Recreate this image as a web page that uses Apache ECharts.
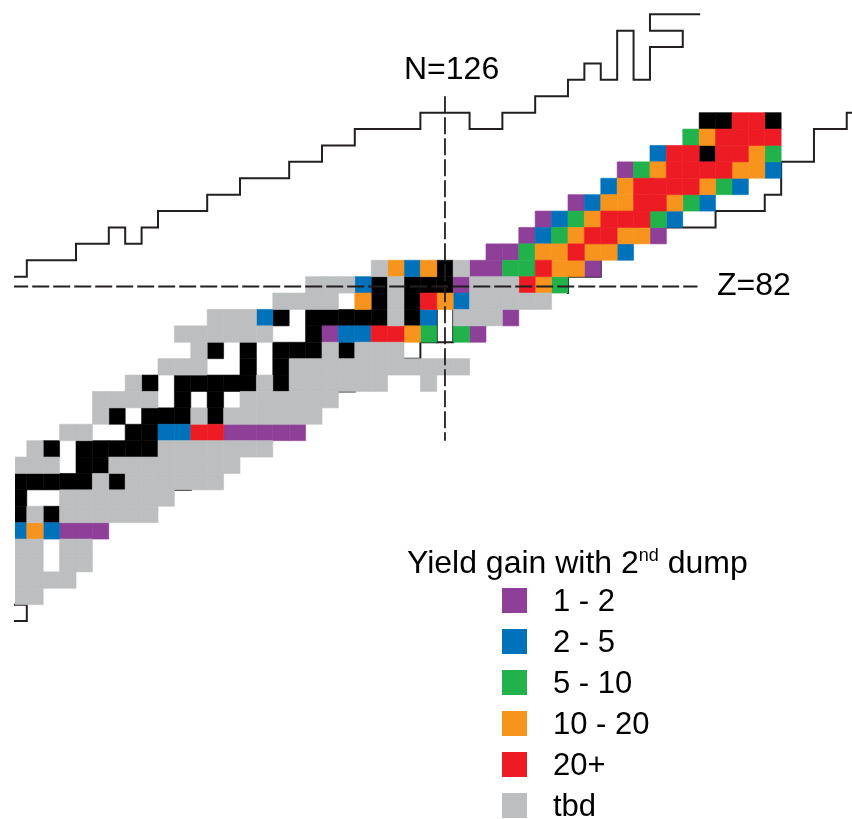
<!DOCTYPE html>
<html>
<head>
<meta charset="utf-8">
<script src="https://cdn.jsdelivr.net/npm/echarts@6/dist/echarts.min.js"></script>
<style>
html,body{margin:0;padding:0;background:#fff;}
#c{width:852px;height:819px;}
</style>
</head>
<body>
<div id="c"></div>
<script>
// ---- legend categories ----
const categories = ['1 - 2', '2 - 5', '5 - 10', '10 - 20', '20+', 'tbd'];
const categoryCodes = ['p', 'b', 'g', 'o', 'r', 't'];
const categoryColors = ['#8E3F97', '#0072BC', '#22B24C', '#F7941D', '#ED1C24', '#BCBEC0'];
const legendTitle = 'Yield gain with 2{s|nd} dump';
const knownCode = 'k';          // black cells (no legend entry)
const knownColor = '#000000';

// ---- cell grid: one row per proton number Z, starting at neutron number rowStartN ----
// codes: p,b,g,o,r = yield-gain classes, t = tbd, k = black, '.' = empty
const rowZ = [92, 91, 90, 89, 88, 87, 86, 85, 84, 83, 82, 81, 80, 79, 78, 77, 76, 75, 74, 73, 72, 71, 70, 69, 68, 67, 66, 65, 64, 63];
const rowStartN = [142, 141, 139, 137, 136, 134, 132, 131, 129, 122, 118, 116, 112, 110, 111, 109, 107, 105, 105, 103, 101, 100, 100, 100, 100, 100, 100, 100, 100, 100];
const rowCells = [
  'kkrrk',
  'gorrrr',
  'brrkrrog',
  'pgorrrroob',
  'borrrrogb',
  'pboorrogb',
  'pbgorrrgb',
  'pbgorroop',
  'ppgooroob',
  'toboktppggroop',
  'tttbktkkkptttrog',
  'tttt.oktkrobttttt',
  'tttbk.kkkkktkb.tttp',
  'tttttt..kpbbrrog.gp',
  'tk.k.kkktkttt',
  'ttt..k.kttttttttttt',
  'tk.kkkkktktttttt..t',
  'tttt.k.k.tttttt',
  'tk.kkktktttttt',
  'tt..kkbbrrppppp',
  'tk.kkkkkttttttt',
  'ttt.kktttttttt',
  'kkkkktktttttt',
  'k..ttttttt',
  'ktktttttt',
  'bobppp',
  'tt.tt',
  'tt.tt',
  'tttt',
  'tt'
];

// ---- outline (limit) lines, [N, Z] corner points on cell edges ----
const upperLimit = [[99,82.5],[100.5,82.5],[100.5,83.5],[103.5,83.5],[103.5,84.5],[105.5,84.5],[105.5,85.5],[106.5,85.5],[106.5,84.5],[107.5,84.5],[107.5,85.5],[108.5,85.5],[108.5,86.5],[111.5,86.5],[111.5,87.5],[113.5,87.5],[113.5,88.5],[116.5,88.5],[116.5,89.5],[118.5,89.5],[118.5,90.5],[120.5,90.5],[120.5,91.5],[124.5,91.5],[124.5,92.5],[127.5,92.5],[127.5,91.5],[129.5,91.5],[129.5,92.5],[131.5,92.5],[131.5,93.5],[133.5,93.5],[133.5,94.5],[134.5,94.5],[134.5,95.5],[135.5,95.5],[135.5,94.5],[136.5,94.5],[136.5,97.5],[137.5,97.5],[137.5,94.5],[138.5,94.5],[138.5,96.5],[140.5,96.5],[140.5,97.5],[138.5,97.5],[138.5,98.5],[141.5,98.5]];
const rightLimit = [[152,92.5],[150.5,92.5],[150.5,91.5],[148.5,91.5],[148.5,89.5],[146.5,89.5],[146.5,87.5],[145.5,87.5],[145.5,86.5],[142.5,86.5],[142.5,85.5],[139.5,85.5]];
const lowerLimitA = [[133.5,81.5],[133.5,82.5],[135.5,82.5],[135.5,83.5]];
const lowerLimitB = [[123.5,77.5],[124.5,77.5],[124.5,78.5],[126.5,78.5],[126.5,80.5]];
const lowerLimitC = [[125.5,78.5],[125.5,80.5]];
const lowerLimitD = [[119.5,75.5],[120.5,75.5]];
const lowerLimitE = [[109.5,69.5],[110.5,69.5]];
const lowerLimitF = [[99,62.5],[100.5,62.5],[100.5,61.5],[99,61.5]];

// ---- magic-number guide lines ----
const magicN = 126, magicNRange = [72.5, 93.5];
const magicZ = 81.9, magicZRange = [99, 141.4];

// ---- build ----
const cells = {};
rowZ.forEach((z, i) => {
  const s = rowCells[i];
  for (let j = 0; j < s.length; j++) {
    const c = s[j];
    if (c === '.') continue;
    (cells[c] = cells[c] || []).push([rowStartN[i] + j, z]);
  }
});

function cellSeries(name, color, data) {
  return {
    type: 'custom', name: name, coordinateSystem: 'cartesian2d', data: data,
    z: 3, clip: true, silent: true, animation: false,
    itemStyle: { color: color },
    renderItem: function (params, api) {
      const a = api.coord([api.value(0) - 0.5, api.value(1) + 0.5]);
      const b = api.coord([api.value(0) + 0.5, api.value(1) - 0.5]);
      return {
        type: 'rect',
        shape: { x: a[0], y: a[1], width: b[0] - a[0], height: b[1] - a[1] },
        style: { fill: color, stroke: color, lineWidth: 0.6 }
      };
    }
  };
}

const FONT = 'Liberation Sans, Arial, Helvetica, sans-serif';
const series = [];
[upperLimit, rightLimit, lowerLimitA, lowerLimitB, lowerLimitC, lowerLimitD, lowerLimitE, lowerLimitF].forEach(p => {
  series.push({
    type: 'line', data: p, symbol: 'none', silent: true, animation: false, z: 2,
    lineStyle: { color: '#231F20', width: 2, join: 'miter', cap: 'square' }
  });
});
series.push(cellSeries('known', knownColor, cells[knownCode] || []));
categories.forEach((name, i) => series.push(cellSeries(name, categoryColors[i], cells[categoryCodes[i]] || [])));
series.push({
  type: 'line', data: [[magicN, magicNRange[1]], [magicN, magicNRange[0]]], symbol: 'none', silent: true, animation: false, z: 5,
  lineStyle: { color: '#231F20', width: 1.8, type: [17, 4] }
});
series.push({
  type: 'line', data: [[magicZRange[0], magicZ], [magicZRange[1], magicZ]], symbol: 'none', silent: true, animation: false, z: 5,
  lineStyle: { color: '#231F20', width: 1.8, type: [17, 4], dashOffset: 12 }
});

// ---- legend drawn as a graphic group (layout only) ----
const legendLeft = 502, legendTop = 588, legendStep = 41, legendBox = 25, legendTextX = 51;
const legendChildren = [
  { type: 'text', x: -95, y: -41, style: {
      text: legendTitle, font: '32px ' + FONT, fill: '#000', verticalAlign: 'top',
      rich: { s: { fontSize: 18, fontFamily: FONT, verticalAlign: 'top', lineHeight: 35 } }
  } }
];
categories.forEach((name, i) => {
  legendChildren.push({ type: 'rect', shape: { x: 0, y: i * legendStep, width: legendBox, height: legendBox }, style: { fill: categoryColors[i] } });
  legendChildren.push({ type: 'text', x: legendTextX, y: i * legendStep - 1, style: { text: name, font: '31px ' + FONT, fill: '#000', verticalAlign: 'top' } });
});

const chart = echarts.init(document.getElementById('c'), null, { renderer: 'canvas' });
const hiddenAxis = { type: 'value', show: false, splitLine: { show: false } };
chart.setOption({
  backgroundColor: '#ffffff',
  animation: false,
  grid: { left: 15, right: 0, top: 0, bottom: 0, containLabel: false },
  xAxis: Object.assign({}, hiddenAxis, { min: 99.78, max: 150.82 }),
  yAxis: Object.assign({}, hiddenAxis, { min: 49.43, max: 99.37 }),
  graphic: [
    { type: 'text', left: 404, top: 54, style: { text: 'N=126', font: '32px ' + FONT, fill: '#000' } },
    { type: 'text', left: 717, top: 270, style: { text: 'Z=82', font: '32px ' + FONT, fill: '#000' } },
    { type: 'group', x: legendLeft, y: legendTop, children: legendChildren }
  ],
  series: series
});
</script>
</body>
</html>
